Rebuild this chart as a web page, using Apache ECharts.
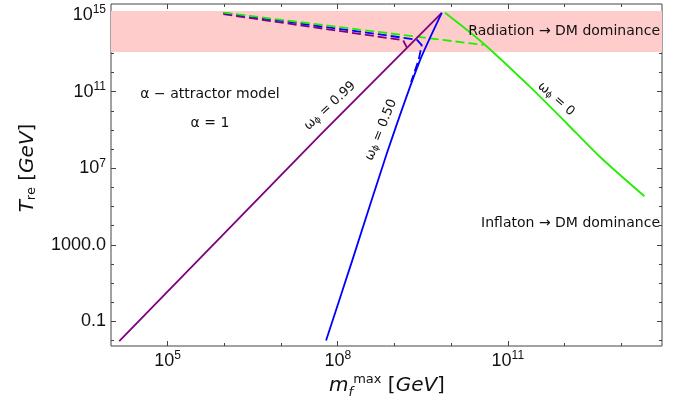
<!DOCTYPE html>
<html><head><meta charset="utf-8">
<script src="https://cdn.jsdelivr.net/npm/echarts@6/dist/echarts.min.js"></script>
<style>html,body{margin:0;padding:0;background:#fff}#c{width:685px;height:411px}</style>
</head><body><div id="c"></div>
<script>
// ---- data: log10 of m_f^max [GeV] and log10 of T_re [GeV] ----
const purpleSolidLogM = [4.146, 7.688, 9.835];
const purpleSolidLogT = [-2.03, 8.73, 15.12];
const blueSolidLogM = [7.794, 8.275, 8.865, 9.452, 9.835];
const blueSolidLogT = [-1.99, 2.36, 7.77, 12.65, 15.12];
const greenSolidLogM = [9.893, 10.569, 11.393, 12.041, 12.628, 13.410];
const greenSolidLogT = [15.12, 13.52, 11.25, 9.34, 7.59, 5.54];
const purpleDashLogM = [5.981, 9.152, 9.22];
const purpleDashLogT = [15.05, 13.69, 13.30];
const blueDashLogM = [5.981, 9.394, 9.482, 9.426, 9.293];
const blueDashLogT = [15.12, 13.72, 13.43, 12.65, 11.50];
const greenDashLogM = [5.981, 10.569];
const greenDashLogT = [15.13, 13.44];
const bandLogT = [13.07, 15.21];
const xRange = [4.0, 13.72];
const yRange = [-2.28, 15.58];
const xMajorTicks = [5, 8, 11];
const xMinorTicks = [5, 6, 7, 8, 9, 10, 11, 12, 13];
const yMajorTicks = [-1, 3, 7, 11, 15];
const yMinorTicks = [-2, -1, 0, 1, 2, 3, 4, 5, 6, 7, 8, 9, 10, 11, 12, 13, 14, 15];
const yTickBase = ['0.1', '1000.0', '10', '10', '10'];
const yTickExp = ['', '', '7', '11', '15'];

const pairs = (xs, ys) => xs.map((x, i) => [x, ys[i]]);
const AX = '#444';
const tickFont = 'Liberation Sans';
const annFont = 'DejaVu Sans';
const richTick = {
  b: {fontSize: 18, lineHeight: 22, fontFamily: tickFont, color: '#111'},
  e: {fontSize: 12, lineHeight: 12, verticalAlign: 'top', fontFamily: tickFont, color: '#111'}
};

function xAxisDef(pos, ticks, len, labels) {
  return {
    type: 'value', position: pos, min: xRange[0], max: xRange[1],
    axisLine: {show: false, onZero: false}, splitLine: {show: false},
    axisTick: {show: true, inside: true, length: len, customValues: ticks, lineStyle: {color: AX, width: 1}},
    axisLabel: labels ? {show: true, margin: 4, customValues: ticks, formatter: v => '{b|10}{e|' + Math.round(v) + '}', rich: richTick}
                      : {show: false}
  };
}
function yAxisDef(pos, ticks, len, labels) {
  return {
    type: 'value', position: pos, min: yRange[0], max: yRange[1],
    axisLine: {show: false, onZero: false}, splitLine: {show: false},
    axisTick: {show: true, inside: true, length: len, customValues: ticks, lineStyle: {color: AX, width: 1}},
    axisLabel: labels ? {show: true, margin: 5, customValues: ticks, formatter: v => {
        const i = yMajorTicks.indexOf(Math.round(v));
        return '{b|' + yTickBase[i] + '}' + (yTickExp[i] ? '{e|' + yTickExp[i] + '}' : '');
      }, rich: richTick}
      : {show: false}
  };
}

function lineSeries(data, color, dashed, smooth) {
  return {
    type: 'line', data: data, xAxisIndex: 0, yAxisIndex: 0, symbol: 'none', z: 3,
    smooth: smooth || false, silent: true,
    lineStyle: {color: color, width: 1.8, type: dashed ? [9, 4] : 'solid'}
  };
}

const chart = echarts.init(document.getElementById('c'), null, {renderer: 'canvas'});
chart.setOption({
  animation: false,
  backgroundColor: '#fff',
  grid: {left: 111, right: 23, top: 4, bottom: 65, show: true, borderColor: AX, borderWidth: 1, backgroundColor: 'transparent', outerBoundsMode: 'none'},
  xAxis: [
    xAxisDef('bottom', xMajorTicks, 5, true),
    xAxisDef('bottom', xMinorTicks, 3, false),
    xAxisDef('top', xMajorTicks, 5, false),
    xAxisDef('top', xMinorTicks, 3, false)
  ],
  yAxis: [
    yAxisDef('left', yMajorTicks, 5, true),
    yAxisDef('left', yMinorTicks, 3, false),
    yAxisDef('right', yMajorTicks, 5, false),
    yAxisDef('right', yMinorTicks, 3, false)
  ],
  series: [
    {type: 'line', data: [], z: 1, silent: true,
     markArea: {silent: true, itemStyle: {color: '#ffcccc'}, data: [[{yAxis: bandLogT[0]}, {yAxis: bandLogT[1]}]]}},
    lineSeries(pairs(purpleDashLogM, purpleDashLogT), '#800080', true),
    lineSeries(pairs(blueDashLogM, blueDashLogT), '#0000ff', true),
    lineSeries(pairs(greenDashLogM, greenDashLogT), '#22ee00', true),
    lineSeries(pairs(purpleSolidLogM, purpleSolidLogT), '#800080', false),
    lineSeries(pairs(blueSolidLogM, blueSolidLogT), '#0000ff', false, 0.2),
    lineSeries(pairs(greenSolidLogM, greenSolidLogT), '#22ee00', false, 0.25)
  ],
  graphic: [
    {type: 'text', x: 660, y: 31, z: 10, style: {text: 'Radiation → DM dominance', font: '14px "' + annFont + '"', fill: '#111', align: 'right', verticalAlign: 'middle'}},
    {type: 'text', x: 660, y: 223, z: 10, style: {text: 'Inflaton → DM dominance', font: '14px "' + annFont + '"', fill: '#111', align: 'right', verticalAlign: 'middle'}},
    {type: 'text', x: 210, y: 94, z: 10, style: {text: 'α − attractor model', font: '14px "' + annFont + '"', fill: '#111', align: 'center', verticalAlign: 'middle'}},
    {type: 'text', x: 210, y: 123, z: 10, style: {text: 'α = 1', font: '14px "' + annFont + '"', fill: '#111', align: 'center', verticalAlign: 'middle'}},
    {type: 'text', x: 330, y: 106, rotation: 0.75, z: 10, style: {
      text: '{w|ω}{s|ϕ}{n| = 0.99}', align: 'center', verticalAlign: 'middle',
      rich: {w: {fontSize: 13, fontFamily: annFont, fill: '#111'}, s: {fontSize: 9, fontFamily: annFont, verticalAlign: 'bottom', fill: '#111'}, n: {fontSize: 13, fontFamily: annFont, fill: '#111'}}}},
    {type: 'text', x: 381, y: 130, rotation: 1.185, z: 10, style: {
      text: '{w|ω}{s|ϕ}{n| = 0.50}', align: 'center', verticalAlign: 'middle',
      rich: {w: {fontSize: 13, fontFamily: annFont, fill: '#111'}, s: {fontSize: 9, fontFamily: annFont, verticalAlign: 'bottom', fill: '#111'}, n: {fontSize: 13, fontFamily: annFont, fill: '#111'}}}},
    {type: 'text', x: 556, y: 99, rotation: -0.72, z: 10, style: {
      text: '{w|ω}{s|ϕ}{n| = 0}', align: 'center', verticalAlign: 'middle',
      rich: {w: {fontSize: 13, fontFamily: annFont, fill: '#111'}, s: {fontSize: 9, fontFamily: annFont, verticalAlign: 'bottom', fill: '#111'}, n: {fontSize: 13, fontFamily: annFont, fill: '#111'}}}},
    {type: 'text', x: 28, y: 168, rotation: Math.PI / 2, z: 10, style: {
      text: '{t|T}{s|re}{n| [}{g|GeV}{n|]}', align: 'center', verticalAlign: 'middle',
      rich: {t: {fontSize: 20, fontStyle: 'italic', fontFamily: annFont, fill: '#111'},
             s: {fontSize: 13, fontFamily: annFont, verticalAlign: 'bottom', fill: '#111'},
             n: {fontSize: 20, fontFamily: annFont, fill: '#111'},
             g: {fontSize: 20, fontStyle: 'italic', fontFamily: annFont, fill: '#111'}}}},
    {type: 'text', x: 387, y: 386, z: 10, style: {
      text: '{m|m}{s|f}{p|max}{n| [}{g|GeV}{n|]}', align: 'center', verticalAlign: 'middle',
      rich: {m: {fontSize: 20, lineHeight: 26, fontStyle: 'italic', fontFamily: annFont, fill: '#111'},
             s: {fontSize: 13, fontStyle: 'italic', fontFamily: annFont, verticalAlign: 'bottom', fill: '#111'},
             p: {fontSize: 13, fontFamily: annFont, verticalAlign: 'top', fill: '#111'},
             n: {fontSize: 20, lineHeight: 26, fontFamily: annFont, fill: '#111'},
             g: {fontSize: 20, lineHeight: 26, fontStyle: 'italic', fontFamily: annFont, fill: '#111'}}}}
  ]
});
</script></body></html>
